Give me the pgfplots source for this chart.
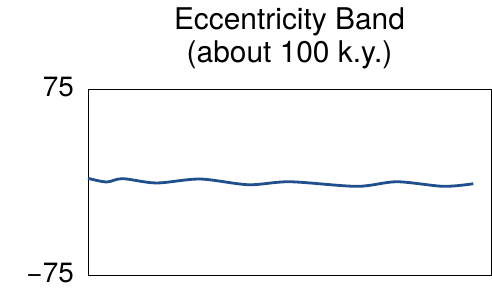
\documentclass[border=0pt]{standalone}
\usepackage{fontspec}
\setmainfont{TeX Gyre Heros}
\usepackage{pgfplots}
\pgfplotsset{compat=1.18}
\definecolor{lineblue}{HTML}{1F4F8C}
\begin{document}
\begin{tikzpicture}
\begin{axis}[
  scale only axis,
  width=403bp, height=186bp,
  xmin=0, xmax=100,
  ymin=-75, ymax=75,
  xtick=\empty,
  ytick={-75,75},
  yticklabels={−75,75},
  major tick length=0pt,
  axis line style={black, line width=0.9bp},
  yticklabel style={font=\fontsize{28}{30}\selectfont, inner sep=0pt, xshift=-14bp, yshift=2bp},
  title={Eccentricity Band\\(about 100 k.y.)},
  title style={font=\fontsize{30}{33}\selectfont, align=center, inner sep=0pt, at={(0.5,1)}, anchor=south, yshift=14bp},
  clip=false,
]
\addplot[lineblue, line width=2.8bp, smooth, tension=0.5] coordinates {
(0,3.0) (4.6,0.0) (8.6,2.7) (17,-0.8) (27.8,2.4) (39.8,-2.2) (50.1,0.2) (66.7,-3.5) (76.6,0.2) (88.2,-3.5) (95.6,-1.4)
};
\end{axis}
\path[use as bounding box] (current axis.south west) ++(-88bp,-13bp) rectangle ++(492bp,288bp);
\end{tikzpicture}
\end{document}
